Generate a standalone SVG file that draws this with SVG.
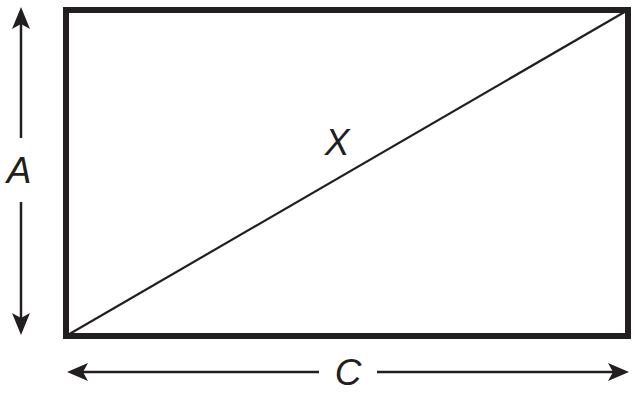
<svg xmlns="http://www.w3.org/2000/svg" width="637" height="404" viewBox="0 0 637 404">
<style>
.ln{stroke:#231f20;stroke-width:2.5;fill:none}
.hd{fill:#231f20}
.lbl{font-family:"Liberation Sans",Arial,sans-serif;font-style:italic;font-size:37px;fill:#231f20;text-anchor:middle}
</style>
<rect width="637" height="404" fill="#fff"/>
<g id="rect">
<rect x="66" y="10" width="562" height="326" fill="none" stroke="#231f20" stroke-width="6"/>
<line x1="66" y1="336" x2="628" y2="10" stroke="#231f20" stroke-width="2.2"/>
</g>
<g id="labelX"><text class="lbl" x="337" y="155">X</text></g>
<g id="connectors">
<line class="ln" x1="21" y1="22" x2="21" y2="138"/>
<line class="ln" x1="21" y1="202" x2="21" y2="320"/>
<path class="hd" d="M21,7 L30,29 L21,24 L12,29 Z"/>
<path class="hd" d="M21,335 L30,313 L21,318 L12,313 Z"/>
<line class="ln" x1="82" y1="372" x2="319" y2="372"/>
<line class="ln" x1="377" y1="372" x2="614" y2="372"/>
<path class="hd" d="M67,372 L88,363 L83,372 L88,381 Z"/>
<path class="hd" d="M629,372 L608,363 L613,372 L608,381 Z"/>
</g>
<g id="labelA"><text class="lbl" x="19" y="183">A</text></g>
<g id="labelC"><text class="lbl" x="348" y="385">C</text></g>
</svg>
